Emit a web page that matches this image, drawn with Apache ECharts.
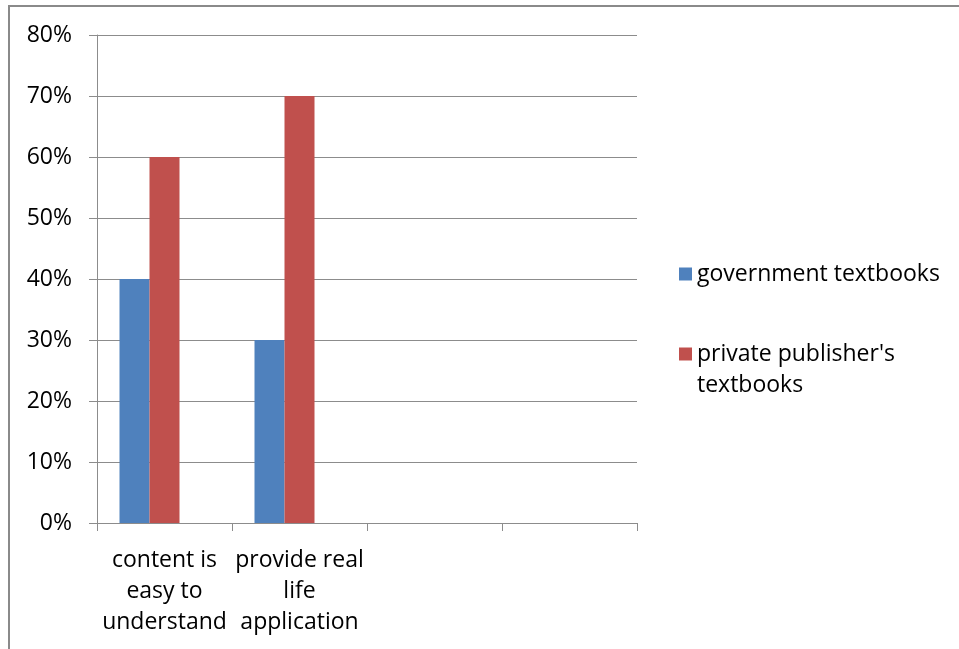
<!DOCTYPE html>
<html>
<head>
<meta charset="utf-8">
<style>
  html, body { margin: 0; padding: 0; background: #fff; }
  #chart { width: 959px; height: 649px; }
</style>
<script src="https://cdn.jsdelivr.net/npm/echarts@6/dist/echarts.min.js"></script>
</head>
<body>
<div id="chart"></div>
<script>
// Survey results: share of respondents per statement, by textbook type
const categories = ['content is\neasy to\nunderstand', 'provide real\nlife\napplication', '', ''];
const governmentValues = [40, 30, null, null];
const privateValues = [60, 70, null, null];
// third column of the source sheet is blank, but still reserves a bar slot
const blankValues = [null, null, null, null];
const yTicks = { min: 0, max: 80, interval: 10 };

const FONT = '"Open Sans", "Liberation Sans", sans-serif';
const GRID_GRAY = '#8c8c8c';

const legendText = { fontFamily: FONT, fontSize: 23, color: '#000', lineHeight: 31 };

const chart = echarts.init(document.getElementById('chart'), null, { renderer: 'canvas' });

chart.setOption({
  backgroundColor: '#ffffff',
  animation: false,
  textStyle: { fontFamily: FONT },
  graphic: [{
    type: 'rect',
    shape: { x: 9, y: 6, width: 1000, height: 700 },
    style: { fill: 'none', stroke: '#8a8a8a', lineWidth: 2 },
    silent: true
  }],
  grid: { left: 97, top: 35, width: 540, height: 488, containLabel: false },
  legend: [{
    orient: 'vertical',
    left: 679,
    top: 258.5,
    padding: 0,
    itemWidth: 13,
    itemHeight: 13,
    icon: 'rect',
    selectedMode: false,
    data: ['government textbooks'],
    textStyle: legendText
  }, {
    orient: 'vertical',
    left: 679,
    top: 307.5,
    padding: 0,
    itemWidth: 13,
    itemHeight: 13,
    icon: 'rect',
    selectedMode: false,
    data: ["private publisher's\ntextbooks"],
    // leading blank line keeps the marker level with the first text line
    formatter: function (name) { return '\n' + name; },
    textStyle: legendText
  }],
  xAxis: {
    type: 'category',
    data: categories,
    boundaryGap: true,
    axisLine: { show: true, lineStyle: { color: GRID_GRAY, width: 1 } },
    axisTick: { show: true, length: 8, lineStyle: { color: GRID_GRAY, width: 1 } },
    axisLabel: {
      interval: 0,
      margin: 22,
      fontFamily: FONT,
      fontSize: 23,
      lineHeight: 31,
      color: '#000',
      align: 'center'
    },
    splitLine: { show: false }
  },
  yAxis: {
    type: 'value',
    min: yTicks.min,
    max: yTicks.max,
    interval: yTicks.interval,
    axisLine: { show: true, lineStyle: { color: GRID_GRAY, width: 1 } },
    axisTick: { show: true, inside: false, length: 8, lineStyle: { color: GRID_GRAY, width: 1 } },
    axisLabel: {
      margin: 25,
      fontFamily: FONT,
      fontSize: 23,
      color: '#000',
      formatter: '{value}%'
    },
    splitLine: { show: true, lineStyle: { color: GRID_GRAY, width: 1 } }
  },
  series: [{
    name: 'government textbooks',
    type: 'bar',
    data: governmentValues,
    barGap: '0%',
    barCategoryGap: '33.33%',
    itemStyle: { color: '#4F81BD' }
  }, {
    name: "private publisher's\ntextbooks",
    type: 'bar',
    data: privateValues,
    barGap: '0%',
    barCategoryGap: '33.33%',
    itemStyle: { color: '#C0504D' }
  }, {
    name: 'blank',
    type: 'bar',
    data: blankValues,
    barGap: '0%',
    barCategoryGap: '33.33%',
    itemStyle: { color: '#9BBB59' }
  }]
});
</script>
</body>
</html>
